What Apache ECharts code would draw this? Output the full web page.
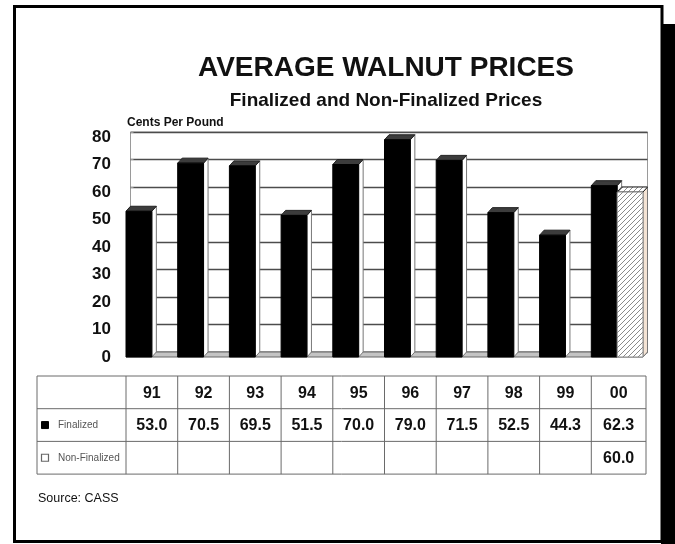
<!DOCTYPE html>
<html><head><meta charset="utf-8">
<script src="https://cdn.jsdelivr.net/npm/echarts@6/dist/echarts.min.js"></script>
<style>html,body{margin:0;padding:0;background:#fff}#c{width:675px;height:544px}</style>
</head><body><div id="c"></div>
<script>
// ---- data ----
const categories = ['91','92','93','94','95','96','97','98','99','00'];
const finalized = [53.0, 70.5, 69.5, 51.5, 70.0, 79.0, 71.5, 52.5, 44.3, 62.3];
const nonFinalized = [null, null, null, null, null, null, null, null, null, 60.0];
const finalizedLabels = ['53.0','70.5','69.5','51.5','70.0','79.0','71.5','52.5','44.3','62.3'];
const nonFinalizedLabels = ['','','','','','','','','','60.0'];
const yMin = 0, yMax = 80, yStep = 10;
const titleText = 'AVERAGE WALNUT PRICES';
const subtitleText = 'Finalized and Non-Finalized Prices';
const unitText = 'Cents Per Pound';
const sourceText = 'Source: CASS';
const rowNames = ['Finalized', 'Non-Finalized'];

// ---- layout ----
const FONT = 'Liberation Sans, Arial, sans-serif';
const DX = 4.5, DY = -5;
const G = {left: 126, top: 137, width: 517, height: 220};

const hatch = document.createElement('canvas');
hatch.width = 5; hatch.height = 5;
(function(){
  const c = hatch.getContext('2d');
  c.fillStyle = '#fff'; c.fillRect(0,0,5,5);
  c.strokeStyle = '#8a8a8a'; c.lineWidth = 1;
  c.beginPath();
  c.moveTo(-1,6); c.lineTo(6,-1);
  c.moveTo(-1,1); c.lineTo(1,-1);
  c.moveTo(4,6); c.lineTo(6,4);
  c.stroke();
})();
const hatchFill = {image: hatch, repeat: 'repeat'};

function barRender(side, front, topFill, sideFill, frontStroke){
  return function(params, api){
    const i = api.value(0), v = api.value(1);
    const b = api.coord([i, 0]), t = api.coord([i, v]);
    const cw = api.size([1, 0])[0], bw = cw / 2;
    const x0 = side === 0 ? b[0] - cw / 2 : b[0];
    const x1 = x0 + bw, yb = b[1], yt = t[1];
    return {type: 'group', children: [
      {type: 'polygon', shape: {points: [[x1, yt], [x1 + DX, yt + DY], [x1 + DX, yb + DY], [x1, yb]]},
        style: {fill: sideFill, stroke: '#777', lineWidth: 1}},
      {type: 'polygon', shape: {points: [[x0, yt], [x0 + DX, yt + DY], [x1 + DX, yt + DY], [x1, yt]]},
        style: {fill: topFill, stroke: '#222', lineWidth: 1}},
      {type: 'rect', shape: {x: x0, y: yt, width: bw, height: yb - yt},
        style: {fill: front, stroke: frontStroke, lineWidth: 1}}
    ]};
  };
}

function floorRender(params, api){
  const b0 = api.coord([0, 0]), b1 = api.coord([categories.length - 1, 0]);
  const cw = api.size([1, 0])[0];
  const L = b0[0] - cw / 2, R = b1[0] + cw / 2, y = b0[1];
  return {type: 'polygon', shape: {points: [[L, y], [L + DX, y + DY], [R + DX, y + DY], [R, y]]},
    style: {fill: '#c4c4c4', stroke: '#666', lineWidth: 1}};
}

const chart = echarts.init(document.getElementById('c'), null, {renderer: 'canvas'});
const option = {
  animation: false,
  backgroundColor: '#fff',
  grid: [
    {left: G.left, top: G.top, width: G.width, height: G.height},
    {left: G.left + DX, top: G.top + DY, width: G.width, height: G.height, show: true,
      borderColor: '#9a9a9a', borderWidth: 1, backgroundColor: '#fff'}
  ],
  xAxis: [
    {type: 'category', gridIndex: 0, data: categories, show: false},
    {type: 'category', gridIndex: 1, data: categories, show: false}
  ],
  yAxis: [
    {type: 'value', gridIndex: 0, min: yMin, max: yMax, interval: yStep,
      axisLine: {show: false}, axisTick: {show: false}, splitLine: {show: false},
      axisLabel: {margin: 15, color: '#111', fontFamily: FONT, fontWeight: 'bold', fontSize: 17}},
    {type: 'value', gridIndex: 1, min: yMin, max: yMax, interval: yStep,
      axisLine: {show: false}, axisLabel: {show: false},
      axisTick: {show: true, inside: true, length: 3, lineStyle: {color: '#999'}},
      splitLine: {show: true, lineStyle: {color: '#4c4c4c', width: 1.3}}}
  ],
  series: [
    {type: 'custom', name: 'floor', xAxisIndex: 0, yAxisIndex: 0, z: 1, data: [[0, 0]], renderItem: floorRender, silent: true},
    {type: 'custom', name: 'Finalized', xAxisIndex: 0, yAxisIndex: 0, z: 2,
      data: finalized.map((v, i) => [i, v]), renderItem: barRender(0, '#000', '#3c3c3c', '#fff', '#000')},
    {type: 'custom', name: 'Non-Finalized', xAxisIndex: 0, yAxisIndex: 0, z: 2,
      data: nonFinalized.map((v, i) => [i, v]).filter(d => d[1] != null),
      renderItem: barRender(1, hatchFill, hatchFill, '#f4e3d4', '#888')}
  ]
};
chart.setOption(option);

// ---- table and decorations ----
const centers = categories.map((c, i) => chart.convertToPixel({xAxisIndex: 0}, i));
const cw = centers.length > 1 ? centers[1] - centers[0] : G.width;
const colEdges = centers.map(c => c - cw / 2);
const tRight = centers[centers.length - 1] + cw / 2 + 3;
colEdges.push(tRight);
const tLeft = 37, tTop = 376, rowH = 32.7;
const rows = [tTop, tTop + rowH, tTop + 2 * rowH, tTop + 3 * rowH];
const gfx = [];
const lineStyle = {stroke: '#6a6a6a', lineWidth: 1};
rows.forEach(y => gfx.push({type: 'line', shape: {x1: tLeft, y1: y, x2: tRight, y2: y}, style: lineStyle}));
[tLeft].concat(colEdges).forEach(x => gfx.push({type: 'line', shape: {x1: x, y1: rows[0], x2: x, y2: rows[3]}, style: lineStyle}));
const cellText = (txt, cx, cy) => ({type: 'text', x: cx, y: cy, style: {text: txt, fill: '#111',
  font: 'bold 16px ' + FONT, align: 'center', verticalAlign: 'middle'}});
categories.forEach((c, i) => {
  const cx = (colEdges[i] + colEdges[i + 1]) / 2;
  gfx.push(cellText(c, cx, (rows[0] + rows[1]) / 2 + 1));
  gfx.push(cellText(finalizedLabels[i], cx, (rows[1] + rows[2]) / 2 + 1));
  if (nonFinalizedLabels[i]) gfx.push(cellText(nonFinalizedLabels[i], cx, (rows[2] + rows[3]) / 2 + 1));
});
rowNames.forEach((n, r) => {
  const cy = (rows[r + 1] + rows[r + 2]) / 2;
  gfx.push({type: 'rect', shape: {x: 41.5, y: cy - 3.5, width: 7, height: 7},
    style: r === 0 ? {fill: '#000', stroke: '#000', lineWidth: 1} : {fill: '#fff', stroke: '#666', lineWidth: 1.2}});
  gfx.push({type: 'text', x: 58, y: cy, style: {text: n, fill: '#555', font: '10px ' + FONT, verticalAlign: 'middle'}});
});
// titles
gfx.push({type: 'text', x: 386, y: 82, style: {text: titleText, fill: '#111', font: 'bold 28px ' + FONT, align: 'center', verticalAlign: 'bottom'}});
gfx.push({type: 'text', x: 386, y: 110, style: {text: subtitleText, fill: '#111', font: 'bold 19px ' + FONT, align: 'center', verticalAlign: 'bottom'}});
gfx.push({type: 'text', x: 127, y: 129, style: {text: unitText, fill: '#111', font: 'bold 12px ' + FONT, verticalAlign: 'bottom'}});
gfx.push({type: 'text', x: 38, y: 505, style: {text: sourceText, fill: '#111', font: '12.5px ' + FONT, verticalAlign: 'bottom'}});
// frame and shadow
gfx.push({type: 'rect', shape: {x: 661, y: 24, width: 14, height: 520}, style: {fill: '#000'}, z: 100});
gfx.push({type: 'rect', shape: {x: 14.5, y: 6.5, width: 647.5, height: 535}, style: {fill: 'none', stroke: '#000', lineWidth: 3}, z: 101});
chart.setOption({graphic: {elements: gfx}});
</script>
</body></html>
